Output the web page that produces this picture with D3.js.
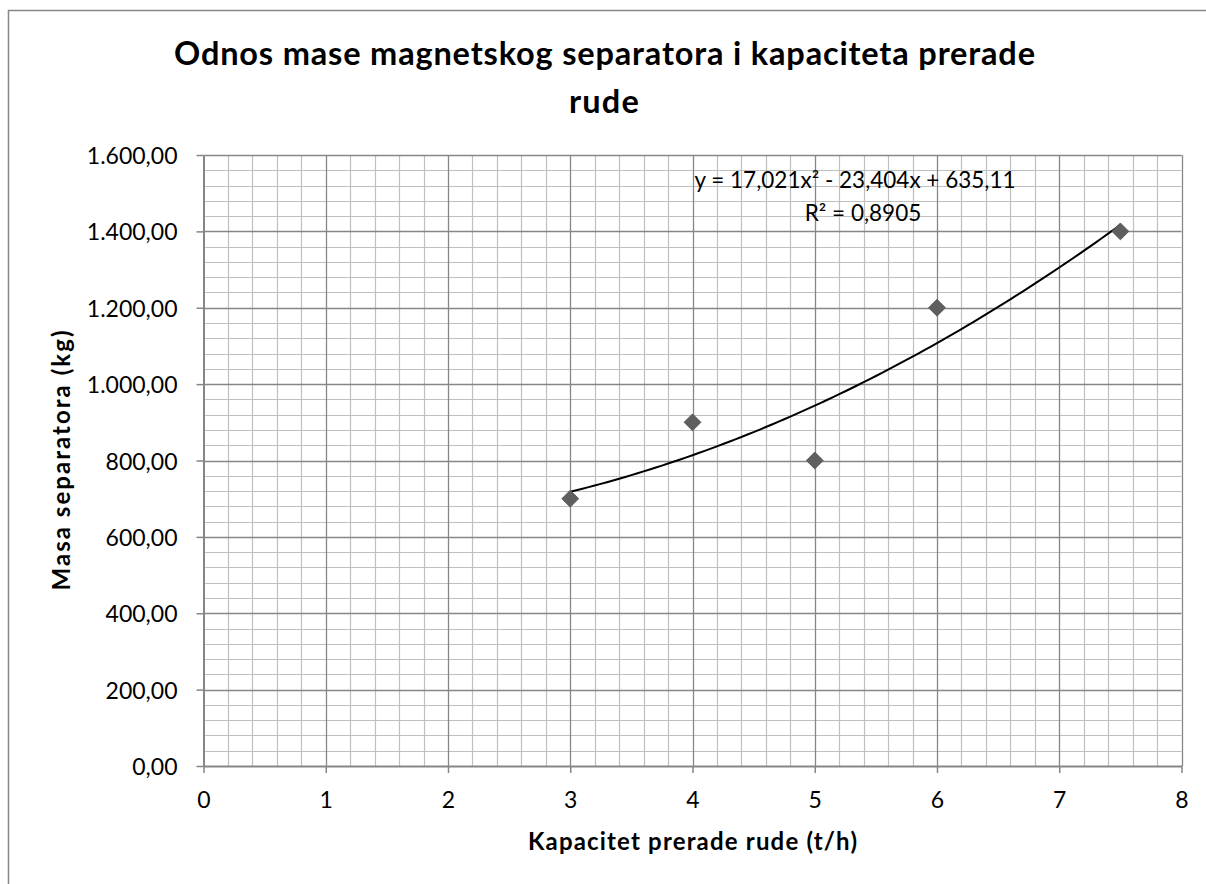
<!DOCTYPE html>
<html>
<head>
<meta charset="utf-8">
<script src="https://cdn.jsdelivr.net/npm/d3@7"></script>
<style>
  html, body { margin: 0; padding: 0; background: #fff; }
  svg { display: block; }
  text { font-family: Lato, "Open Sans", sans-serif; fill: #000; }
</style>
</head>
<body>
<svg id="chart" width="1206" height="884"></svg>
<script>
// Capacity of ore processing (t/h) and separator mass (kg)
const capacity = [3, 4, 5, 6, 7.5];
const mass = [700, 900, 800, 1200, 1400];

// Polynomial (order 2) trendline coefficients
const trendCoef = [17.021, -23.404, 635.11]; // a, b, c
const trendLabel = ["y = 17,021x² - 23,404x + 635,11", "R² = 0,8905"];

const xTicks = [0, 1, 2, 3, 4, 5, 6, 7, 8];
const yTicks = [0, 200, 400, 600, 800, 1000, 1200, 1400, 1600];

const titleLines = ["Odnos mase magnetskog separatora i kapaciteta prerade", "rude"];
const xTitle = "Kapacitet prerade rude (t/h)";
const yTitle = "Masa separatora (kg)";

const svg = d3.select("#chart");

const loc = d3.formatLocale({ decimal: ",", thousands: ".", grouping: [3], currency: ["", ""] });
const fmtY = loc.format(",.2f");

const plot = { left: 203.5, right: 1181.5, top: 155, bottom: 766 };
const x = d3.scaleLinear().domain([0, 8]).range([plot.left, plot.right]);
const y = d3.scaleLinear().domain([0, 1600]).range([plot.bottom, plot.top]);

// Chart frame
svg.append("rect")
  .attr("x", 8.5).attr("y", 10.5)
  .attr("width", 1300).attr("height", 1000)
  .attr("fill", "#fff").attr("stroke", "#868686").attr("stroke-width", 1.5);

// Minor gridlines
const minorX = d3.range(0, 8.0001, 0.2).filter(v => Math.abs(v - Math.round(v)) > 1e-6);
const minorY = d3.range(0, 1600.001, 40).filter(v => v % 200 !== 0);
const grid = svg.append("g");
grid.selectAll(".mx").data(minorX).join("line")
  .attr("x1", d => Math.round(x(d)) + 0.5).attr("x2", d => Math.round(x(d)) + 0.5)
  .attr("y1", plot.top).attr("y2", plot.bottom)
  .attr("stroke", "#bfbfbf").attr("stroke-width", 1.2);
grid.selectAll(".my").data(minorY).join("line")
  .attr("y1", d => Math.round(y(d)) + 0.5).attr("y2", d => Math.round(y(d)) + 0.5)
  .attr("x1", plot.left).attr("x2", plot.right)
  .attr("stroke", "#bfbfbf").attr("stroke-width", 1.2);

// Major gridlines
grid.selectAll(".Mx").data(xTicks.slice(1)).join("line")
  .attr("x1", d => Math.round(x(d)) + 0.5).attr("x2", d => Math.round(x(d)) + 0.5)
  .attr("y1", plot.top).attr("y2", plot.bottom)
  .attr("stroke", "#878787").attr("stroke-width", 1.3);
grid.selectAll(".My").data(yTicks.slice(1)).join("line")
  .attr("y1", d => Math.round(y(d)) + 0.5).attr("y2", d => Math.round(y(d)) + 0.5)
  .attr("x1", plot.left).attr("x2", plot.right)
  .attr("stroke", "#878787").attr("stroke-width", 1.3);

// Axes
const xAxis = d3.axisBottom(x).tickValues(xTicks).tickSizeInner(7).tickSizeOuter(0).tickPadding(19);
const yAxis = d3.axisLeft(y).tickValues(yTicks).tickSizeInner(7).tickSizeOuter(0).tickPadding(19).tickFormat(fmtY);

const gx = svg.append("g").attr("transform", `translate(0,${plot.bottom})`).call(xAxis);
const gy = svg.append("g").attr("transform", `translate(${plot.left},0)`).call(yAxis);
[gx, gy].forEach(g => {
  g.select(".domain").attr("stroke", "#868686").attr("stroke-width", 2);
  g.selectAll(".tick line").attr("stroke", "#868686").attr("stroke-width", 1.5);
  g.selectAll(".tick text").attr("font-family", "Lato, sans-serif").attr("font-size", 23).attr("fill", "#000");
});
gx.selectAll(".tick text").attr("dy", "0.71em");
gy.selectAll(".tick text").attr("dy", "0.37em");

// Trendline
const fx = v => trendCoef[0] * v * v + trendCoef[1] * v + trendCoef[2];
const xs = d3.range(d3.min(capacity), d3.max(capacity) + 1e-9, 0.05);
svg.append("path")
  .datum(xs)
  .attr("d", d3.line().x(d => x(d)).y(d => y(fx(d))))
  .attr("fill", "none").attr("stroke", "#000").attr("stroke-width", 2);

// Data markers
const pts = capacity.map((c, i) => ({ c, m: mass[i] }));
svg.append("g").selectAll("path").data(pts).join("path")
  .attr("d", d3.symbol().type(d3.symbolDiamond2).size(180))
  .attr("transform", d => `translate(${x(d.c)},${y(d.m)})`)
  .attr("fill", "#5f5f5f").attr("stroke", "#5a5a5a").attr("stroke-width", 1);

// Trendline equation
svg.append("text").attr("x", 855).attr("y", 188).attr("text-anchor", "middle")
  .attr("font-size", 22.5).text(trendLabel[0]);
svg.append("text").attr("x", 863).attr("y", 221).attr("text-anchor", "middle")
  .attr("font-size", 22.5).text(trendLabel[1]);

// Title
svg.append("text").attr("x", 604.5).attr("y", 65)
  .attr("text-anchor", "middle").attr("font-weight", "bold").attr("font-size", 32.5)
  .attr("textLength", 861).attr("lengthAdjust", "spacing")
  .text(titleLines[0]);
svg.append("text").attr("x", 604.5).attr("y", 113)
  .attr("text-anchor", "middle").attr("font-weight", "bold").attr("font-size", 32.5)
  .attr("letter-spacing", 1.2)
  .text(titleLines[1]);

// Axis titles
svg.append("text").attr("x", (plot.left + plot.right) / 2).attr("y", 850)
  .attr("text-anchor", "middle").attr("font-weight", "bold").attr("font-size", 24)
  .attr("textLength", 329).attr("lengthAdjust", "spacing")
  .text(xTitle);
svg.append("text")
  .attr("transform", `translate(70,${(plot.top + plot.bottom) / 2}) rotate(-90)`)
  .attr("text-anchor", "middle").attr("font-weight", "bold").attr("font-size", 24)
  .attr("textLength", 260).attr("lengthAdjust", "spacing")
  .text(yTitle);
</script>
</body>
</html>
